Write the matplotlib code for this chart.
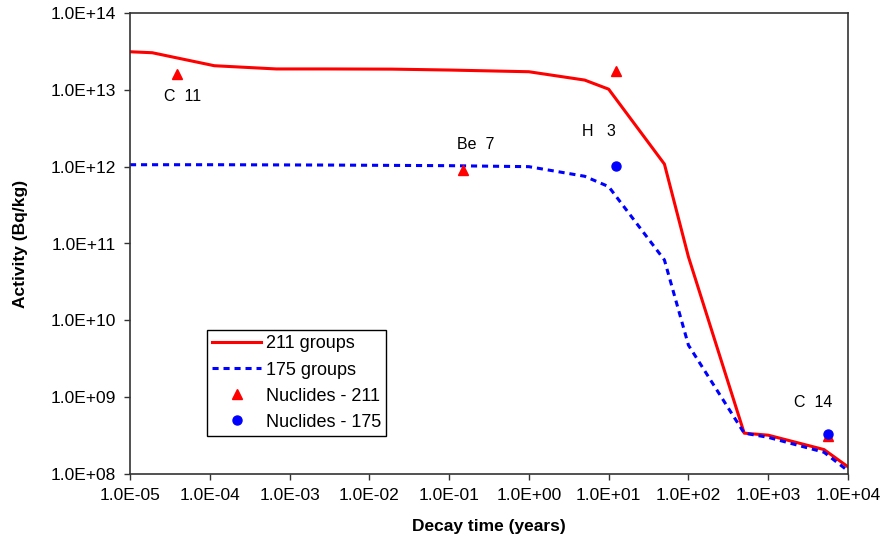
# coding: utf-8

import numpy as np
import matplotlib
matplotlib.use("Agg")
import matplotlib.pyplot as plt
from matplotlib.ticker import FuncFormatter, LogLocator

plt.rcParams["font.family"] = ["Liberation Sans", "DejaVu Sans"]

# ---- data
t_211 = [1.0e-5, 1.9e-5, 1.14e-4, 6.8e-4, 2.74e-3, 1.92e-2, 0.1, 1.0, 5.0, 10.0, 50.0, 100.0, 500.0, 1000.0, 5000.0, 1.0e4]
act_211 = [3.13e13, 3.04e13, 2.06e13, 1.87e13, 1.87e13, 1.86e13, 1.81e13, 1.72e13, 1.34e13, 1.02e13,
           1.08e12, 6.7e10, 3.4e8, 3.2e8, 2.08e8, 1.24e8]

t_175 = [1.0e-5, 1.14e-4, 2.74e-3, 0.1, 1.0, 5.0, 10.0, 50.0, 100.0, 500.0, 1000.0, 5000.0, 1.0e4]
act_175 = [1.06e12, 1.06e12, 1.05e12, 1.03e12, 1.0e12, 7.5e11, 5.5e11, 6.1e10, 4.75e9, 3.4e8, 3.0e8, 1.92e8, 1.1e8]

nuc_211_t = [3.9e-5, 0.148, 12.3, 5640.0]
nuc_211_a = [1.61e13, 9.0e11, 1.78e13, 3.15e8]

nuc_175_t = [12.3, 5640.0]
nuc_175_a = [1.03e12, 3.3e8]

labels = ["C  11", "Be  7", "H   3", "C  14"]
label_t = [4.5e-5, 0.214, 7.5, 3620.0]
label_a = [8.3e12, 1.97e12, 2.9e12, 8.6e8]


def sci(v, pos):
    return "%.1E" % v


fig = plt.figure(figsize=(8.85, 5.4), dpi=100)
ax = fig.add_axes([130 / 885, 1 - 474 / 540, 718 / 885, 461 / 540])

ax.plot(t_211, act_211, color="#ff0000", lw=2.2, label="211 groups")
ax.plot(t_175, act_175, color="#0000ff", lw=2.2, ls=(0, (2, 1.6)), label="175 groups")
ax.plot(nuc_211_t, nuc_211_a, ls="none", marker="^", ms=6.5, color="#ff0000", label="Nuclides - 211")
ax.plot(nuc_175_t, nuc_175_a, ls="none", marker="o", ms=6.5, color="#0000ff", label="Nuclides - 175")

for s, x, y in zip(labels, label_t, label_a):
    ax.text(x, y, s, fontsize=11.5, ha="center", va="center")

ax.set_xscale("log")
ax.set_yscale("log")
ax.set_xlim(1e-5, 1e4)
ax.set_ylim(1e8, 1e14)
ax.xaxis.set_major_locator(LogLocator(base=10, numticks=20))
ax.yaxis.set_major_locator(LogLocator(base=10, numticks=20))
ax.xaxis.set_minor_locator(plt.NullLocator())
ax.yaxis.set_minor_locator(plt.NullLocator())
ax.xaxis.set_major_formatter(FuncFormatter(sci))
ax.yaxis.set_major_formatter(FuncFormatter(sci))
ax.tick_params(direction="out", length=4, width=1, labelsize=12.5, pad=6, color="#333333")

for sp in ax.spines.values():
    sp.set_color("#333333")
    sp.set_linewidth(1.2)

ax.set_xlabel("Decay time (years)", fontsize=12.5, fontweight="bold")
ax.set_ylabel("Activity (Bq/kg)", fontsize=12.5, fontweight="bold")
ax.xaxis.set_label_coords(0.5, -0.097)
ax.yaxis.set_label_coords(-0.142, 0.5)

leg = ax.legend(loc="lower left", bbox_to_anchor=(207 / 885, 1 - 436 / 540), bbox_transform=fig.transFigure,
                borderaxespad=0, fontsize=13, fancybox=False, edgecolor="black", framealpha=1,
                handlelength=2.7, labelspacing=0.5, numpoints=1, borderpad=0.3, handletextpad=0.25)
leg.get_frame().set_linewidth(1.0)

fig.savefig("out.png", dpi=100)
